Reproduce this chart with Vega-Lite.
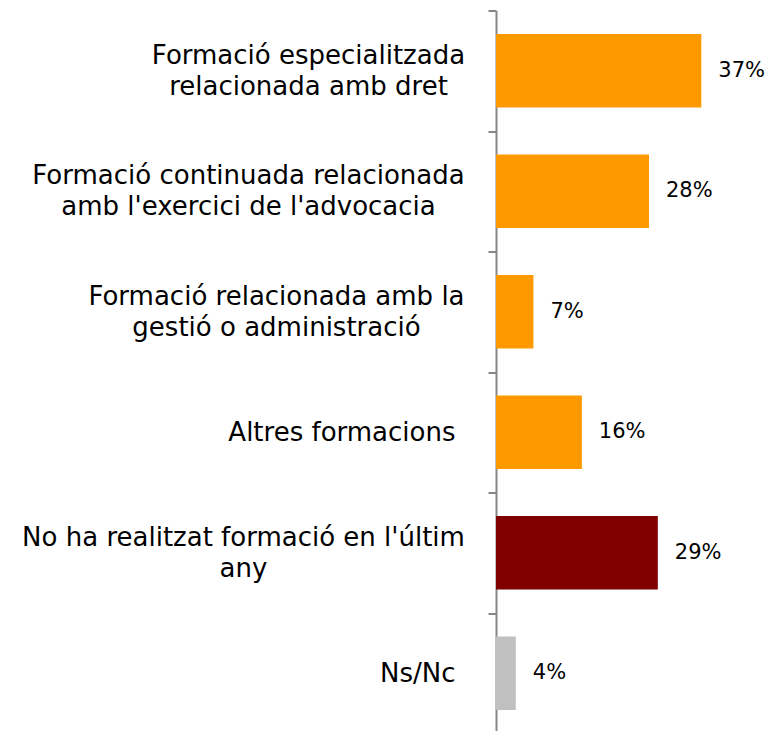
{
  "$schema": "https://vega.github.io/schema/vega-lite/v6.json",
  "width": 273,
  "height": 723,
  "autosize": {"type": "none"},
  "padding": {"left": 496, "top": 10.5, "right": 0, "bottom": 0},
  "background": "white",
  "config": {"view": {"stroke": null}},
  "data": {
    "values": [
      {"categoria": "Formació especialitzada relacionada amb dret", "valor": 0.373, "grup": "Formació"},
      {"categoria": "Formació continuada relacionada amb l'exercici de l'advocacia", "valor": 0.278, "grup": "Formació"},
      {"categoria": "Formació relacionada amb la gestió o administració", "valor": 0.068, "grup": "Formació"},
      {"categoria": "Altres formacions", "valor": 0.156, "grup": "Formació"},
      {"categoria": "No ha realitzat formació en l'últim any", "valor": 0.294, "grup": "Sense formació"},
      {"categoria": "Ns/Nc", "valor": 0.036, "grup": "Ns/Nc"}
    ]
  },
  "encoding": {
    "y": {
      "field": "categoria",
      "type": "nominal",
      "sort": null,
      "scale": {"paddingInner": 0, "paddingOuter": 0},
      "axis": {
        "title": null,
        "domainColor": "#868686",
        "domainWidth": 2,
        "tickColor": "#868686",
        "tickWidth": 2,
        "tickSize": 8,
        "tickBand": "extent",
        "labelFont": "DejaVu Sans",
        "labelFontSize": 26,
        "labelColor": "#000000",
        "labelLineHeight": 31,
        "labelLimit": 0,
        "labelBaseline": "middle",
        "labelAlign": {
          "condition": {"test": "datum.value == 'Altres formacions' || datum.value == 'Ns/Nc'", "value": "right"},
          "value": "center"
        },
        "labelOffset": {
          "condition": {"test": "datum.value == 'Altres formacions' || datum.value == 'Ns/Nc'", "value": 0},
          "value": -15.5
        },
        "labelPadding": {
          "condition": [
            {"test": "datum.value == 'Formació especialitzada relacionada amb dret'", "value": 180},
            {"test": "datum.value == \"Formació continuada relacionada amb l'exercici de l'advocacia\"", "value": 240},
            {"test": "datum.value == 'Formació relacionada amb la gestió o administració'", "value": 212},
            {"test": "datum.value == \"No ha realitzat formació en l'últim any\"", "value": 245}
          ],
          "value": 33
        },
        "labelExpr": "datum.value == null ? '' : datum.value == 'Formació especialitzada relacionada amb dret' ? ['Formació especialitzada', 'relacionada amb dret'] : datum.value == \"Formació continuada relacionada amb l'exercici de l'advocacia\" ? ['Formació continuada relacionada', \"amb l'exercici de l'advocacia\"] : datum.value == 'Formació relacionada amb la gestió o administració' ? ['Formació relacionada amb la', 'gestió o administració'] : datum.value == \"No ha realitzat formació en l'últim any\" ? [\"No ha realitzat formació en l'últim\", 'any'] : datum.value"
      }
    },
    "x": {
      "field": "valor",
      "type": "quantitative",
      "scale": {"domain": [0, 0.496], "nice": false},
      "axis": null
    }
  },
  "layer": [
    {
      "mark": {"type": "bar", "height": {"band": 0.61}},
      "encoding": {
        "color": {
          "field": "grup",
          "type": "nominal",
          "scale": {"domain": ["Formació", "Sense formació", "Ns/Nc"], "range": ["#FF9900", "#800000", "#C0C0C0"]},
          "legend": null
        }
      }
    },
    {
      "mark": {"type": "text", "align": "left", "baseline": "middle", "dx": 17, "font": "DejaVu Sans", "fontSize": 21, "color": "#000000"},
      "encoding": {
        "text": {"field": "valor", "type": "quantitative", "format": ".0%"}
      }
    }
  ]
}
